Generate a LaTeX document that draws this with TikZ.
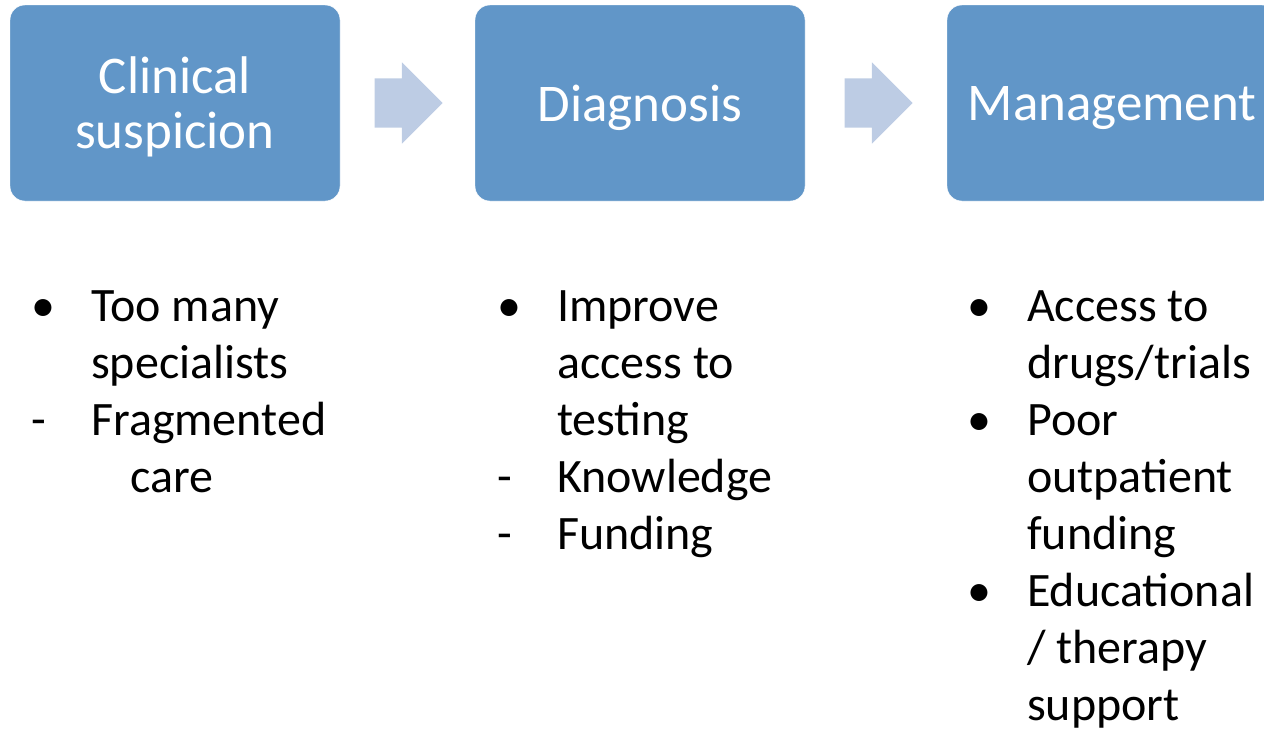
\documentclass[tikz,border=0pt]{standalone}
\usepackage{fontspec}
\setmainfont{Carlito}
\usetikzlibrary{shapes.arrows, positioning, calc}

\definecolor{stageblue}{RGB}{97,150,200}
\definecolor{flowblue}{RGB}{189,204,228}

% list markers
\newcommand{\ptbul}{\makebox[60pt][l]{\textbullet}}
\newcommand{\ptdash}{\makebox[60pt][l]{-}}
\newcommand{\ptgap}{\hspace*{60pt}}

\begin{document}
\begin{tikzpicture}[x=1pt, y=-1pt,
    stage/.style={rectangle, rounded corners=15pt, fill=stageblue, draw=white, text=white,
        minimum width=330pt, minimum height=196pt, align=center, inner sep=0pt,
        text depth=0pt, font=\fontsize{53}{55}\selectfont},
    flow/.style={single arrow, fill=flowblue, inner xsep=0pt, inner ysep=24.5pt,
        minimum height=68pt, single arrow head extend=16pt, anchor=tip},
    notes/.style={anchor=base west, inner sep=0pt, align=left,
        font=\fontsize{48}{57}\selectfont}]
    \path[use as bounding box, clip] (0,0) rectangle (1264,729);

    % Stages
    \node[stage] (clin) at (175,103) {Clinical\\suspicion};
    \node[stage] (diag) at (640,103) {Diagnosis};
    \node[stage] (mgmt) at (1112,103) {Management};

    % Block arrows between stages
    \node[flow] (arr1) at ($(diag.west)+(-32,0)$) {};
    \node[flow] (arr2) at ($(mgmt.west)+(-34,0)$) {};

    % Issues per stage (anchored at the last line)
    \node[notes] (clinnotes) at (31,492) {\ptbul Too many\\ \ptgap specialists\\
        \ptdash Fragmented\\ \hspace*{99pt}care};
    \node[notes] (diagnotes) at (497,549) {\ptbul Improve\\ \ptgap access to\\
        \ptgap testing\\ \ptdash Knowledge\\ \ptdash Funding};
    \node[notes] (mgmtnotes) at (967,720) {\ptbul Access to\\ \ptgap drugs/trials\\
        \ptbul Poor\\ \ptgap outpatient\\ \ptgap funding\\ \ptbul Educational\\
        \ptgap / therapy\\ \ptgap support};
\end{tikzpicture}
\end{document}
